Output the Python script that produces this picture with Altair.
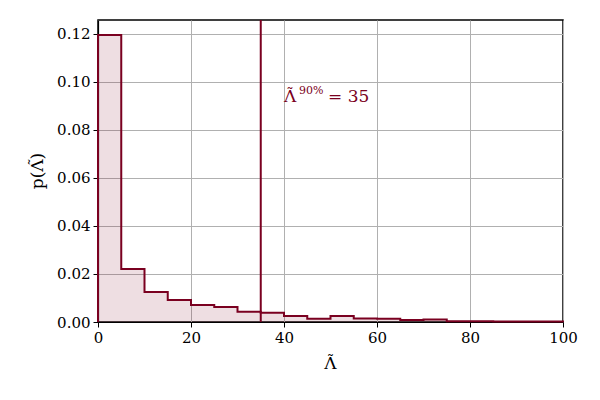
import altair as alt
import pandas as pd

# bin edges (width 5) and densities
bin_left = [0, 5, 10, 15, 20, 25, 30, 35, 40, 45, 50, 55, 60, 65, 70, 75, 80, 85, 90, 95]
density = [0.1195, 0.0221, 0.0125, 0.0092, 0.0071, 0.0063, 0.0043, 0.0039, 0.0025, 0.0014,
           0.0025, 0.0015, 0.0014, 0.0008, 0.0010, 0.0003, 0.0003, 0.0002, 0.0002, 0.0002]
x_end = 100
lam90 = 35
x_ticks = [0, 20, 40, 60, 80, 100]
y_ticks = [0.00, 0.02, 0.04, 0.06, 0.08, 0.10, 0.12]

RED = "#7a0020"
FONT = "DejaVu Serif"
TILDE = "˜"
W, H = 465, 302

steps = pd.DataFrame({
    "x": [0] + bin_left + [x_end, x_end],
    "y": [0] + density + [density[-1], 0],
})

xs = alt.Scale(domain=[0, 100], nice=False, zero=False)
ys = alt.Scale(domain=[0, 0.1258], nice=False)

xax = alt.Axis(values=x_ticks, format="d", title="", grid=True, labelFlush=False)
yax = alt.Axis(values=y_ticks, format=".2f", title="", grid=True)

area = alt.Chart(steps).mark_area(interpolate="step-after", color=RED, opacity=0.13).encode(
    x=alt.X("x:Q", scale=xs, axis=xax),
    y=alt.Y("y:Q", scale=ys, axis=yax),
)
line = alt.Chart(steps).mark_line(interpolate="step-after", color=RED, strokeWidth=2).encode(
    x=alt.X("x:Q", scale=xs),
    y=alt.Y("y:Q", scale=ys),
)
vline = alt.Chart(pd.DataFrame({"x": [lam90]})).mark_rule(color=RED, strokeWidth=2).encode(
    x=alt.X("x:Q", scale=xs),
)

ann = pd.DataFrame({"x": [40], "y": [0.0915]})
def ann_text(txt, size, dx=0, dy=0, align="left"):
    return alt.Chart(ann).mark_text(text=txt, color=RED, font=FONT, fontSize=size, align=align,
                                    baseline="alphabetic", dx=dx, dy=dy).encode(
        x=alt.X("x:Q", scale=xs), y=alt.Y("y:Q", scale=ys))

t1 = ann_text("Λ", 17)
t1t = ann_text(TILDE, 15, dx=6, dy=-3, align="center")
t2 = ann_text("90%", 11, dx=15, dy=-8)
t3 = ann_text("= " + str(lam90), 17, dx=44)

# axis titles as text (Λ with tilde drawn above it)
xt = alt.Chart(ann).mark_text(text="Λ", font=FONT, fontSize=17, color="black",
                              align="center", baseline="alphabetic").encode(
    x=alt.value(W / 2), y=alt.value(H + 47))
xtt = alt.Chart(ann).mark_text(text=TILDE, font=FONT, fontSize=15, color="black",
                               align="center", baseline="alphabetic").encode(
    x=alt.value(W / 2), y=alt.value(H + 44))
yt = alt.Chart(ann).mark_text(text="p(Λ)", font=FONT, fontSize=17, color="black",
                              align="center", baseline="alphabetic", angle=270).encode(
    x=alt.value(-55), y=alt.value(H / 2))
ytt = alt.Chart(ann).mark_text(text=TILDE, font=FONT, fontSize=15, color="black",
                               align="center", baseline="alphabetic", angle=270).encode(
    x=alt.value(-58), y=alt.value(H / 2 - 9))

chart = alt.layer(area, line, vline, t1, t1t, t2, t3, xt, xtt, yt, ytt).properties(
    width=W, height=H,
    autosize=alt.AutoSizeParams(type="none"),
    padding={"left": 90, "top": 12, "right": 29, "bottom": 70},
).configure(font=FONT).configure_view(
    stroke="black", strokeWidth=1.5,
).configure_axis(
    domainColor="black", domainWidth=1.2, tickColor="black", tickSize=5, tickWidth=1,
    gridColor="#b0b0b0", gridWidth=1, labelFont=FONT, labelFontSize=15, labelColor="black",
    labelPadding=3,
)

chart.save("out.html", embed_options={"renderer": "svg", "actions": False})
